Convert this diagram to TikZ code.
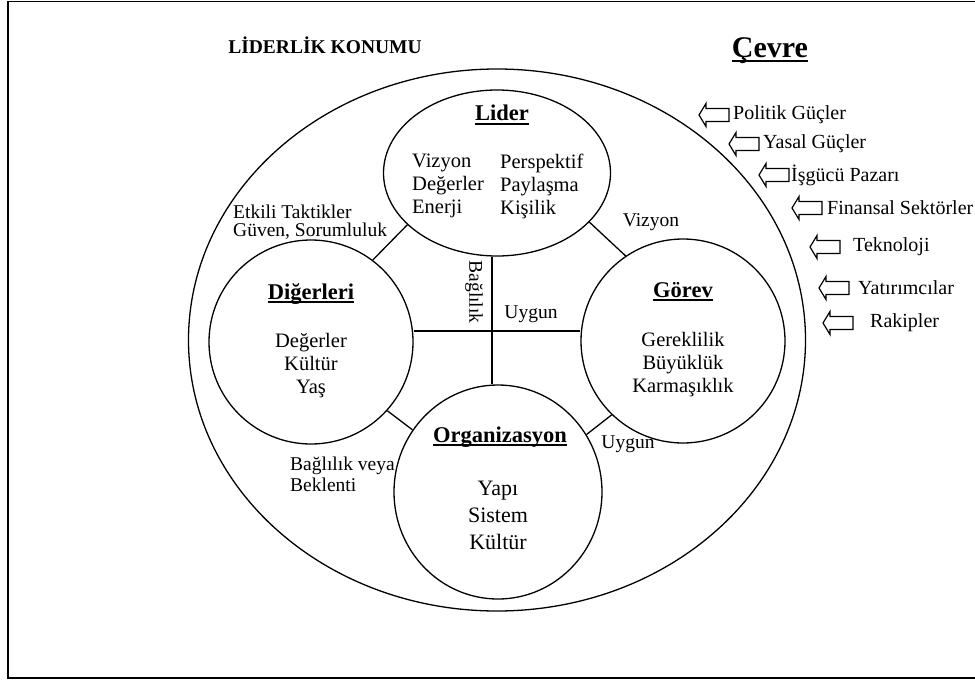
\documentclass[tikz,border=0pt]{standalone}
\usepackage{fontspec}
\setmainfont{Liberation Serif}
\usetikzlibrary{shapes.geometric}
% bold titles carry a heavy rule underneath
\newcommand{\thickul}[1]{\leavevmode\sbox0{#1}\rlap{\rule[-3.8pt]{\wd0}{2pt}}\usebox0}
\tikzset{
  ring/.style={ellipse, draw, line width=1.3pt, inner sep=0pt},
  link/.style={line width=1.3pt},
  lab/.style={font=\fontsize{19.5}{18.5}\selectfont, inner sep=0pt},
  body/.style={font=\fontsize{20.5}{23}\selectfont, inner sep=0pt},
  head/.style={font=\fontsize{22.5}{25}\selectfont\bfseries, inner sep=0pt},
  force/.style={font=\fontsize{20}{22}\selectfont, inner sep=0pt, anchor=west},
  pics/pushin/.style={code={
    \draw[line width=1.2pt, line join=miter]
      (0,0) -- (7,-11.5) -- (7,-6.5) -- (30,-6.5) -- (30,6.5) -- (7,6.5) -- (7,11.5) -- cycle;}}
}
\begin{document}
\begin{tikzpicture}[x=1pt, y=-1pt]
\useasboundingbox (0,0) rectangle (975,680);
\fill[white] (0,0) rectangle (975,680);
% page frame
\draw[line width=1.8pt] (8,1.5) rectangle (990,678);

% environment and the four spheres
\node[ring, minimum width=617pt, minimum height=542pt] (env) at (497,340) {};
\node[ring, minimum width=227pt, minimum height=166pt] (lider) at (497,173) {};
\node[ring, minimum width=204pt, minimum height=204pt] (dig) at (311,342) {};
\node[ring, minimum width=204pt, minimum height=204pt] (gor) at (683,341) {};
\node[ring, minimum width=208pt, minimum height=214pt] (org) at (498,492) {};

% links between spheres
\coordinate (cross) at (492,331);
\draw[link] (cross -| dig.east) -- (cross -| gor.west);
\draw[link] (cross |- lider.south) -- (cross |- org.north);
\draw[link] (dig.53) -- (lider.210);
\draw[link] (lider.332) -- (gor.124);
\draw[link] (dig.318) -- (org.144);
\draw[link] (gor.226) -- (org.33);

% titles
\node[font=\fontsize{19.5}{22}\selectfont\bfseries, inner sep=0pt] (title) at (325,45) {LİDERLİK KONUMU};
\node[font=\fontsize{30}{32}\selectfont\bfseries, inner sep=0pt] (cevre) at (770,51) {\thickul{Çevre}};

% leader
\node[head] (hlider) at (502,115) {\thickul{Lider}};
\node[body, align=left, anchor=west] (lcol) at (412,186) {Vizyon\\Değerler\\Enerji};
\node[body, align=left, anchor=west] (rcol) at (500,186) {Perspektif\\Paylaşma\\Kişilik};

% others
\node[head] (hdig) at (311,294) {\thickul{Diğerleri}};
\node[body, align=center] (bdig) at (311,366) {Değerler\\Kültür\\Yaş};

% task
\node[head] (hgor) at (683,292) {\thickul{Görev}};
\node[body, align=center] (bgor) at (683,365) {Gereklilik\\Büyüklük\\Karmaşıklık};

% organisation
\node[head] (horg) at (500,437) {\thickul{Organizasyon}};
\node[font=\fontsize{22}{27}\selectfont, inner sep=0pt, align=center] (borg) at (498,515) {Yapı\\Sistem\\Kültür};

% link labels
\node[lab, align=left, anchor=west] (ltac) at (233,222) {Etkili Taktikler\\Güven, Sorumluluk};
\node[lab] (lviz) at (651,222) {Vizyon};
\node[lab, rotate=-90] (lbag) at (474,292) {Bağlılık};
\node[lab] (luy1) at (531,314) {Uygun};
\node[lab] (luy2) at (628,444) {Uygun};
\node[lab, align=left, anchor=west, font=\fontsize{19.5}{21}\selectfont] (lbek) at (290,474) {Bağlılık veya\\Beklenti};

% environmental forces pushing in
\pic at (699,115) {pushin};
\node[force] (f1) at (733,115) {Politik Güçler};
\pic at (729,144) {pushin};
\node[force] (f2) at (763,144) {Yasal Güçler};
\pic at (759,175) {pushin};
\node[force] (f3) at (791,175) {İşgücü Pazarı};
\pic at (792,208) {pushin};
\node[force] (f4) at (827,208) {Finansal Sektörler};
\pic at (810,247) {pushin};
\node[force] (f5) at (853,247) {Teknoloji};
\pic at (819,288) {pushin};
\node[force] (f6) at (858,288) {Yatırımcılar};
\pic at (823,323) {pushin};
\node[force] (f7) at (870,323) {Rakipler};
\end{tikzpicture}
\end{document}
